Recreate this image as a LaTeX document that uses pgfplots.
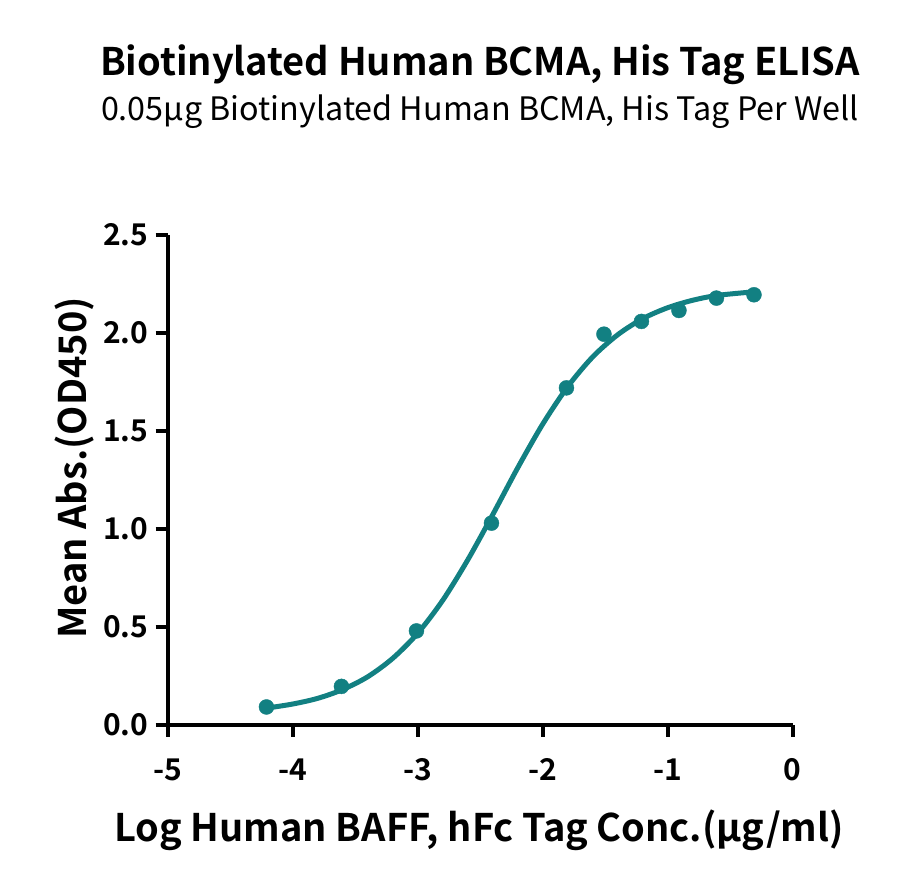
\documentclass[border=0pt]{standalone}
\usepackage{fontspec}
\setmainfont{Noto Sans CJK SC}[BoldFont={Noto Sans CJK SC Bold}]
\usepackage{pgfplots}
\pgfplotsset{compat=1.18}
\definecolor{tealc}{RGB}{18,128,130}
\begin{document}
\begin{tikzpicture}[x=1pt,y=1pt]
\path[use as bounding box] (0,0) rectangle (900,888);
\begin{axis}[
  at={(167.7pt,163pt)}, anchor=south west,
  scale only axis, width=625pt, height=490pt,
  xmin=-5, xmax=0, ymin=0, ymax=2.5,
  axis x line*=bottom, axis y line*=left,
  axis line style={line width=4pt, -},
  every tick/.style={line width=4pt, black},
  tick align=outside, major tick length=12pt,
  xtick={-5,-4,-3,-2,-1,0}, xticklabels={-5,-4,-3,-2,-1,0},
  ytick={0,0.5,1,1.5,2,2.5}, yticklabels={0.0,0.5,1.0,1.5,2.0,2.5},
  tick label style={font=\fontsize{30}{32}\selectfont\bfseries},
  xticklabel style={yshift=-18pt},
  yticklabel style={xshift=-4pt},
  clip=false,
]
\addplot[tealc, line width=5pt, smooth] coordinates {
(-4.21,0.086) (-4.0,0.107) (-3.8,0.136) (-3.6,0.181) (-3.4,0.246)
(-3.2,0.340) (-3.0,0.468) (-2.8,0.636) (-2.6,0.842) (-2.4,1.073)
(-2.2,1.312) (-2.0,1.535) (-1.8,1.726) (-1.6,1.878) (-1.4,1.991)
(-1.2,2.073) (-1.0,2.129) (-0.8,2.167) (-0.6,2.192) (-0.31,2.210)
};
\addplot[only marks, mark=*, mark size=7.5pt, color=tealc, mark options={draw=tealc, fill=tealc}] coordinates {
(-4.21,0.092) (-3.61,0.197) (-3.01,0.48) (-2.41,1.03) (-1.81,1.72)
(-1.51,1.994) (-1.21,2.059) (-0.91,2.115) (-0.61,2.178) (-0.31,2.195)
};
\end{axis}
\node[font=\fontsize{38}{42}\selectfont\bfseries] at (480,823) {Biotinylated Human BCMA, His Tag ELISA};
\node[font=\fontsize{32.3}{36}\selectfont] at (480,776) {0.05µg Biotinylated Human BCMA, His Tag Per Well};
\node[font=\fontsize{38}{42}\selectfont\bfseries] at (479,58) {Log Human BAFF, hFc Tag Conc.(µg/ml)};
\node[font=\fontsize{38}{42}\selectfont\bfseries, rotate=90] at (75,420) {Mean Abs.(OD450)};
\end{tikzpicture}
\end{document}
